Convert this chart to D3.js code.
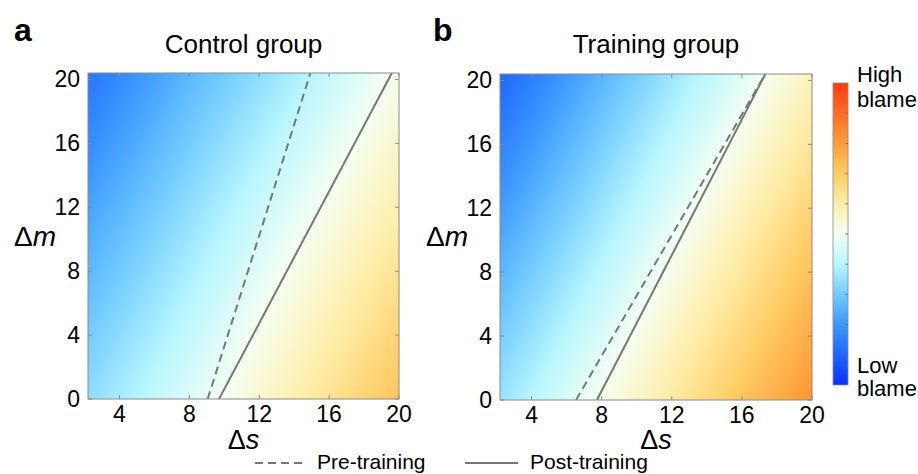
<!DOCTYPE html>
<html>
<head>
<meta charset="utf-8">
<script src="https://cdn.jsdelivr.net/npm/d3@7"></script>
<style>
  body { margin: 0; background: #fff; }
  svg { font-family: "Liberation Sans", Arial, sans-serif; }
</style>
</head>
<body>
<div id="chart"></div>
<script>
const sNodes = [2.2, 8, 14, 20];
const mNodes = [0, 10.2, 20.4];
// rows = mNodes, cols = sNodes (0 = low blame, 1 = high blame)
const blameControl = [
  [0.34, 0.46, 0.59, 0.72],
  [0.24, 0.36, 0.49, 0.61],
  [0.13, 0.26, 0.38, 0.51]
];
const blameTraining = [
  [0.355, 0.507, 0.664, 0.82],
  [0.23, 0.38, 0.54, 0.70],
  [0.10, 0.255, 0.41, 0.57]
];
// boundary lines [Δs, Δm]
const preControl = [[9.05, 0], [14.93, 20.4]];
const postControl = [[9.70, 0], [19.59, 20.4]];
const preTraining = [[6.54, 0], [17.34, 20.4]];
const postTraining = [[7.73, 0], [17.34, 20.4]];

const xTicks = [4, 8, 12, 16, 20];
const yTicks = [0, 4, 8, 12, 16, 20];
const cbTicks = [0.1, 0.2, 0.3, 0.4, 0.5, 0.6, 0.7, 0.8, 0.9];

const cmapStops = [0, 0.1, 0.2, 0.3, 0.4, 0.5, 0.6, 0.7, 0.8, 0.9, 1];
const cmapColors = ["#0a2eff", "#1f66ff", "#3c98ff", "#72cbff", "#b8f6ff", "#f4fff2",
                    "#ffeeaa", "#ffcc66", "#ff9e3a", "#ff6c22", "#ff3a10"];

const width = 918, height = 474;
const color = d3.scaleLinear().domain(cmapStops).range(cmapColors).interpolate(d3.interpolateRgb);

const svg = d3.select("#chart").append("svg")
  .attr("width", width).attr("height", height);

const lineColor = "#777";
const frameColor = "#8a8a8a";

function bilinear(grid, s, m) {
  let i = d3.bisectRight(sNodes, s) - 1;
  let j = d3.bisectRight(mNodes, m) - 1;
  i = Math.max(0, Math.min(sNodes.length - 2, i));
  j = Math.max(0, Math.min(mNodes.length - 2, j));
  const ts = (s - sNodes[i]) / (sNodes[i + 1] - sNodes[i]);
  const tm = (m - mNodes[j]) / (mNodes[j + 1] - mNodes[j]);
  const a = grid[j][i] * (1 - ts) + grid[j][i + 1] * ts;
  const b = grid[j + 1][i] * (1 - ts) + grid[j + 1][i + 1] * ts;
  return a * (1 - tm) + b * tm;
}

function drawPanel(opt) {
  const x = d3.scaleLinear().domain([2.2, 20]).range([opt.left, opt.right]);
  const y = d3.scaleLinear().domain([0, 20.4]).range([opt.bottom, opt.top]);
  const w = Math.round(opt.right - opt.left), h = Math.round(opt.bottom - opt.top);

  // heatmap painted into a canvas then placed as an image
  const canvas = document.createElement("canvas");
  canvas.width = w; canvas.height = h;
  const ctx = canvas.getContext("2d");
  const img = ctx.createImageData(w, h);
  for (let py = 0; py < h; py++) {
    const m = y.invert(opt.top + py + 0.5);
    for (let px = 0; px < w; px++) {
      const s = x.invert(opt.left + px + 0.5);
      const c = d3.rgb(color(bilinear(opt.grid, s, m)));
      const k = (py * w + px) * 4;
      img.data[k] = c.r; img.data[k + 1] = c.g; img.data[k + 2] = c.b; img.data[k + 3] = 255;
    }
  }
  ctx.putImageData(img, 0, 0);

  const g = svg.append("g");
  g.append("image")
    .attr("x", opt.left).attr("y", opt.top)
    .attr("width", w).attr("height", h)
    .attr("preserveAspectRatio", "none")
    .attr("href", canvas.toDataURL());

  const clipId = "clip-" + opt.id;
  g.append("clipPath").attr("id", clipId).append("rect")
    .attr("x", opt.left).attr("y", opt.top).attr("width", w).attr("height", h);

  const line = d3.line().x(d => x(d[0])).y(d => y(d[1]));
  g.append("path").datum(opt.pre)
    .attr("clip-path", `url(#${clipId})`)
    .attr("d", line).attr("fill", "none")
    .attr("stroke", lineColor).attr("stroke-width", 2)
    .attr("stroke-dasharray", "8,5");
  g.append("path").datum(opt.post)
    .attr("clip-path", `url(#${clipId})`)
    .attr("d", line).attr("fill", "none")
    .attr("stroke", lineColor).attr("stroke-width", 2);

  // frame + inward ticks on all sides
  g.append("rect")
    .attr("x", opt.left).attr("y", opt.top).attr("width", w).attr("height", h)
    .attr("fill", "none").attr("stroke", frameColor).attr("stroke-width", 1);

  const tl = 4;
  xTicks.forEach(t => {
    g.append("line").attr("x1", x(t)).attr("x2", x(t)).attr("y1", opt.bottom).attr("y2", opt.bottom - tl).attr("stroke", frameColor);
    g.append("line").attr("x1", x(t)).attr("x2", x(t)).attr("y1", opt.top).attr("y2", opt.top + tl).attr("stroke", frameColor);
    g.append("text").attr("x", x(t)).attr("y", opt.bottom + 23)
      .attr("text-anchor", "middle").attr("font-size", 23).text(t);
  });
  yTicks.forEach(t => {
    g.append("line").attr("x1", opt.left).attr("x2", opt.left + tl).attr("y1", y(t)).attr("y2", y(t)).attr("stroke", frameColor);
    g.append("line").attr("x1", opt.right).attr("x2", opt.right - tl).attr("y1", y(t)).attr("y2", y(t)).attr("stroke", frameColor);
    g.append("text").attr("x", opt.left - 8).attr("y", y(t) + 8)
      .attr("text-anchor", "end").attr("font-size", 23).text(t);
  });

  // panel letter and title
  g.append("text").attr("x", opt.letterX).attr("y", 41)
    .attr("font-size", 32).attr("font-weight", "bold").text(opt.letter);
  g.append("text").attr("x", (opt.left + opt.right) / 2).attr("y", 53)
    .attr("text-anchor", "middle").attr("font-size", 26).text(opt.title);

  // axis labels
  const xl = g.append("text").attr("x", (opt.left + opt.right) / 2).attr("y", 449)
    .attr("text-anchor", "middle").attr("font-size", 27);
  xl.append("tspan").text("Δ");
  xl.append("tspan").attr("font-style", "italic").text("s");

  const yl = g.append("text").attr("x", opt.left - 74).attr("y", 246)
    .attr("font-size", 28);
  yl.append("tspan").text("Δ");
  yl.append("tspan").attr("font-style", "italic").text("m");
}

drawPanel({ id: "a", letter: "a", letterX: 14, title: "Control group",
  left: 88, right: 399, top: 73, bottom: 399,
  grid: blameControl, pre: preControl, post: postControl });
drawPanel({ id: "b", letter: "b", letterX: 433, title: "Training group",
  left: 500, right: 812, top: 74, bottom: 400,
  grid: blameTraining, pre: preTraining, post: postTraining });

// colorbar
const cb = { left: 833, right: 848, top: 83, bottom: 385 };
const cy = d3.scaleLinear().domain([0, 1]).range([cb.bottom, cb.top]);
const defs = svg.append("defs");
const grad = defs.append("linearGradient").attr("id", "cbgrad")
  .attr("x1", 0).attr("y1", 1).attr("x2", 0).attr("y2", 0);
d3.range(0, 1.0001, 0.02).forEach(v => {
  grad.append("stop").attr("offset", v).attr("stop-color", color(v));
});
svg.append("rect")
  .attr("x", cb.left).attr("y", cy(1)).attr("width", cb.right - cb.left).attr("height", cy(0) - cy(1))
  .attr("fill", "url(#cbgrad)").attr("stroke", frameColor).attr("stroke-width", 0.8);
cbTicks.forEach(t => {
  svg.append("line").attr("x1", cb.right).attr("x2", cb.right - 3)
    .attr("y1", cy(t)).attr("y2", cy(t)).attr("stroke", "#666").attr("stroke-width", 0.8);
});
const cbText = [["High", 82], ["blame", 107], ["Low", 373], ["blame", 396]];
cbText.forEach(([t, yy]) => {
  svg.append("text").attr("x", 857).attr("y", yy).attr("font-size", 22).text(t);
});

// legend
const legend = [
  { label: "Pre-training", dash: "8,5", x1: 255, x2: 307, tx: 317 },
  { label: "Post-training", dash: null, x1: 465, x2: 518, tx: 530 }
];
legend.forEach(d => {
  svg.append("line").attr("x1", d.x1).attr("x2", d.x2).attr("y1", 463).attr("y2", 463)
    .attr("stroke", lineColor).attr("stroke-width", 2)
    .attr("stroke-dasharray", d.dash);
  svg.append("text").attr("x", d.tx).attr("y", 469).attr("font-size", 21).text(d.label);
});
</script>
</body>
</html>
